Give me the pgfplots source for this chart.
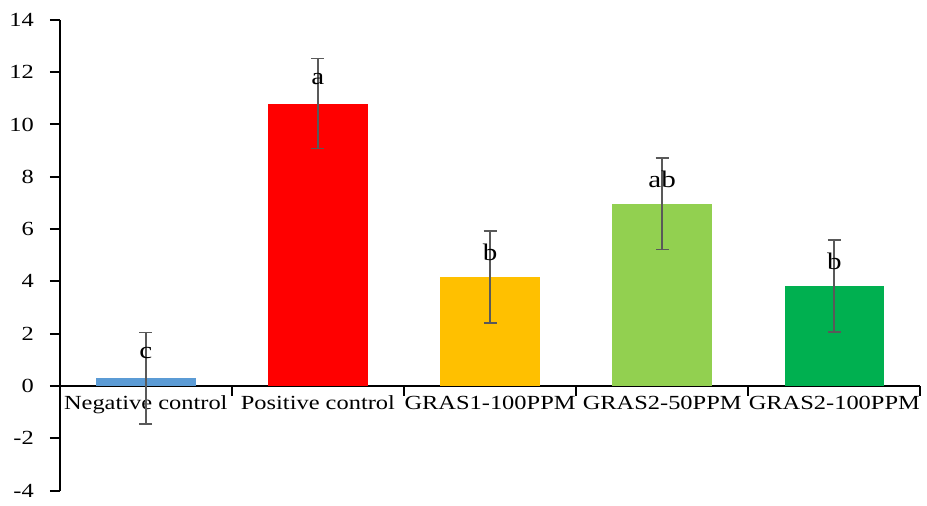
\documentclass[border=0pt]{standalone}
\usepackage{pgfplots}
\pgfplotsset{compat=1.18}
\usepackage{pgfplotstable}
\usepackage{fontspec}
\setmainfont{Liberation Serif}[FakeStretch=1.22]
\definecolor{cA}{HTML}{5B9BD5}
\definecolor{cB}{HTML}{FF0000}
\definecolor{cC}{HTML}{FFC000}
\definecolor{cD}{HTML}{92D050}
\definecolor{cE}{HTML}{00B050}
\definecolor{errc}{HTML}{595959}
\pgfplotstableread{
x y err
0 0.30 1.75
}\tA
\pgfplotstableread{
x y err
1 10.80 1.72
}\tB
\pgfplotstableread{
x y err
2 4.17 1.76
}\tC
\pgfplotstableread{
x y err
3 6.97 1.75
}\tD
\pgfplotstableread{
x y err
4 3.83 1.76
}\tE
\pgfplotstableread{
x ly lab
0 1.25 c
1 11.72 a
2 5.12 b
3 7.90 ab
4 4.78 b
}\tL
\begin{document}
\begin{tikzpicture}
\begin{axis}[
  scale only axis, width=432.5bp, height=236.5bp,
  xmin=-0.5, xmax=4.5, ymin=-4, ymax=14,
  axis y line*=left, axis x line*=middle,
  axis line style={line width=1bp, black},
  ytick={-4,-2,...,14},
  xtick={0.5,1.5,2.5,3.5,4.5}, xticklabels={},
  extra x ticks={0,1,2,3,4},
  extra x tick labels={Negative control, Positive control, GRAS1-100PPM, GRAS2-50PPM, GRAS2-100PPM},
  extra x tick style={major tick length=0pt, xticklabel style={yshift=-1.5bp}},
  tick align=outside, major tick length=5bp,
  tick style={line width=1bp, black},
  ticklabel style={font=\fontsize{10.1}{10}\selectfont},
  yticklabel style={xshift=-4.5bp},
  /pgf/number format/assume math mode=true,
  clip=false,
  error bars/error bar style={color=errc, line width=0.85bp},
  error bars/error mark options={rotate=90, mark size=3.25bp, line width=0.85bp, color=errc},
]
\addplot[ybar, bar width=50bp, bar shift=0pt, fill=cA, draw=none,
  error bars/.cd, y dir=both, y explicit] table[x=x, y=y, y error=err]{\tA};
\addplot[ybar, bar width=50bp, bar shift=0pt, fill=cB, draw=none,
  error bars/.cd, y dir=both, y explicit] table[x=x, y=y, y error=err]{\tB};
\addplot[ybar, bar width=50bp, bar shift=0pt, fill=cC, draw=none,
  error bars/.cd, y dir=both, y explicit] table[x=x, y=y, y error=err]{\tC};
\addplot[ybar, bar width=50bp, bar shift=0pt, fill=cD, draw=none,
  error bars/.cd, y dir=both, y explicit] table[x=x, y=y, y error=err]{\tD};
\addplot[ybar, bar width=50bp, bar shift=0pt, fill=cE, draw=none,
  error bars/.cd, y dir=both, y explicit] table[x=x, y=y, y error=err]{\tE};
\addplot[draw=none, mark=none, nodes near coords, point meta=explicit symbolic,
  nodes near coords style={anchor=center, inner sep=0pt, font=\fontsize{12}{12}\selectfont}]
  table[x=x, y=ly, meta=lab]{\tL};
\end{axis}
\path (current axis.south west) ++(-30bp,-7.5bp);
\path (current axis.north east) ++(1bp,10bp);
\end{tikzpicture}
\end{document}
